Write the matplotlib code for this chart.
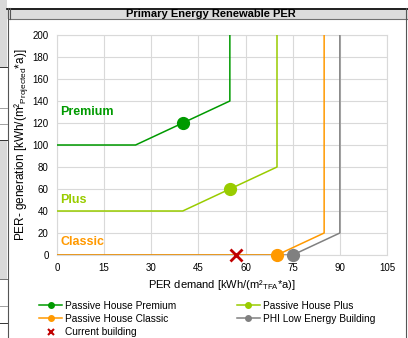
import matplotlib
matplotlib.use('Agg')
import matplotlib.pyplot as plt
from matplotlib.lines import Line2D
from matplotlib.patches import Rectangle

plt.rcParams['font.family'] = ['Liberation Sans', 'DejaVu Sans']

# limit curves: demand (x) vs generation (y)
premium_x = [0, 25, 55, 55]
premium_y = [100, 100, 140, 200]
plus_x = [0, 40, 70, 70]
plus_y = [40, 40, 80, 200]
classic_x = [0, 70, 85, 85]
classic_y = [0, 0, 20, 200]
phi_x = [0, 75, 90, 90]
phi_y = [0, 0, 20, 200]

# marker points on each curve
premium_pt = (40, 120)
plus_pt = (55, 60)
classic_pt = (70, 0)
phi_pt = (75, 0)
current_pt = (57, 0)

class_labels = ['Premium', 'Plus', 'Classic']
class_label_y = [130, 50, 12]

xticks = [0, 15, 30, 45, 60, 75, 90, 105]
yticks = list(range(0, 201, 20))

c_prem = '#009a00'
c_plus = '#99cc00'
c_clas = '#ff9900'
c_phi = '#808080'
c_cur = '#c00000'

W, H = 408, 338
fig = plt.figure(figsize=(W / 100, H / 100), dpi=100)

# excel-ish frame around the chart
def fy(px):
    return 1 - px / H

for y0, y1 in [(0, 67), (140, 279)]:
    fig.patches.append(Rectangle((0, fy(y1)), 7 / W, (y1 - y0) / H, transform=fig.transFigure,
                                 facecolor='#d9d9d9', edgecolor='none', zorder=0))
fig.patches.append(Rectangle((7 / W, fy(18.5)), 1, 10 / H, transform=fig.transFigure,
                             facecolor='#dcdcdc', edgecolor='none', zorder=0))
fig.add_artist(Line2D([7 / W, 1], [fy(8.5)] * 2, color='k', lw=1.2, zorder=1))
fig.add_artist(Line2D([8 / W, 1], [fy(18.5)] * 2, color='#707070', lw=0.8, zorder=1))
fig.add_artist(Line2D([7.5 / W] * 2, [0, fy(8)], color='#555555', lw=0.8))
fig.add_artist(Line2D([9.5 / W] * 2, [fy(18.5), fy(8)], color='#555555', lw=0.8))
fig.add_artist(Line2D([405.5 / W] * 2, [0, fy(8)], color='#555555', lw=0.8))
for yy, cc in [(67, '#333333'), (108, '#a0a0a0'), (124, '#a0a0a0'), (140, '#333333'),
               (279, '#707070'), (306, '#a0a0a0'), (323, '#333333')]:
    fig.add_artist(Line2D([0, 7 / W], [fy(yy)] * 2, color=cc, lw=0.7))

fig.text(211 / W, fy(17.3), 'Primary Energy Renewable PER', ha='center', va='baseline',
         fontsize=8, fontweight='bold', zorder=5)

ax = fig.add_axes([57 / W, fy(255), 330 / W, 220 / H])

ax.plot(phi_x, phi_y, color=c_phi, lw=1.1, zorder=3)
ax.plot(classic_x, classic_y, color=c_clas, lw=1.1, zorder=3)
ax.plot(plus_x, plus_y, color=c_plus, lw=1.1, zorder=3)
ax.plot(premium_x, premium_y, color=c_prem, lw=1.1, zorder=3)

ax.plot(*premium_pt, 'o', color=c_prem, ms=8.5, zorder=4)
ax.plot(*plus_pt, 'o', color=c_plus, ms=8.5, zorder=4)
ax.plot(*classic_pt, 'o', color=c_clas, ms=8.5, zorder=4, clip_on=False)
ax.plot(*phi_pt, 'o', color=c_phi, ms=8.5, zorder=4, clip_on=False)
ax.plot(*current_pt, 'x', color=c_cur, ms=8, mew=2, zorder=5, clip_on=False)

for lab, ly, col in zip(class_labels, class_label_y, [c_prem, c_plus, c_clas]):
    ax.text(1, ly, lab, color=col, fontsize=9, fontweight='bold', va='center', ha='left')

ax.set_xlim(0, 105)
ax.set_ylim(0, 200)
ax.set_xticks(xticks)
ax.set_yticks(yticks)
ax.tick_params(length=0, labelsize=7, pad=6)
ax.grid(True, color='#d9d9d9', lw=0.8)
ax.set_axisbelow(True)
for s in ax.spines.values():
    s.set_color('#d9d9d9')

ax.set_xlabel('PER demand [kWh/(m²$_{\\mathregular{TFA}}$*a)]', fontsize=8, labelpad=3)
ax.set_ylabel('PER- generation [kWh/(m²$_{\\mathregular{Projected}}$*a)]', fontsize=8.5, labelpad=1)

h_prem = Line2D([], [], color=c_prem, marker='o', ms=4, lw=1.1)
h_plus = Line2D([], [], color=c_plus, marker='o', ms=4, lw=1.1)
h_clas = Line2D([], [], color=c_clas, marker='o', ms=4, lw=1.1)
h_phi = Line2D([], [], color=c_phi, marker='o', ms=4, lw=1.1)
h_cur = Line2D([], [], color=c_cur, marker='x', ms=4.5, mew=1.5, lw=0)
fig.legend([h_prem, h_clas, h_cur, h_plus, h_phi],
           ['Passive House Premium', 'Passive House Classic', 'Current building',
            'Passive House Plus', 'PHI Low Energy Building'],
           ncol=2, loc='upper left', bbox_to_anchor=(34 / W, fy(295.5)),
           frameon=False, fontsize=7.3, handlelength=2.3, handletextpad=0.3,
           labelspacing=0.33, columnspacing=5.9, borderpad=0)

fig.savefig('out.png', dpi=100)
